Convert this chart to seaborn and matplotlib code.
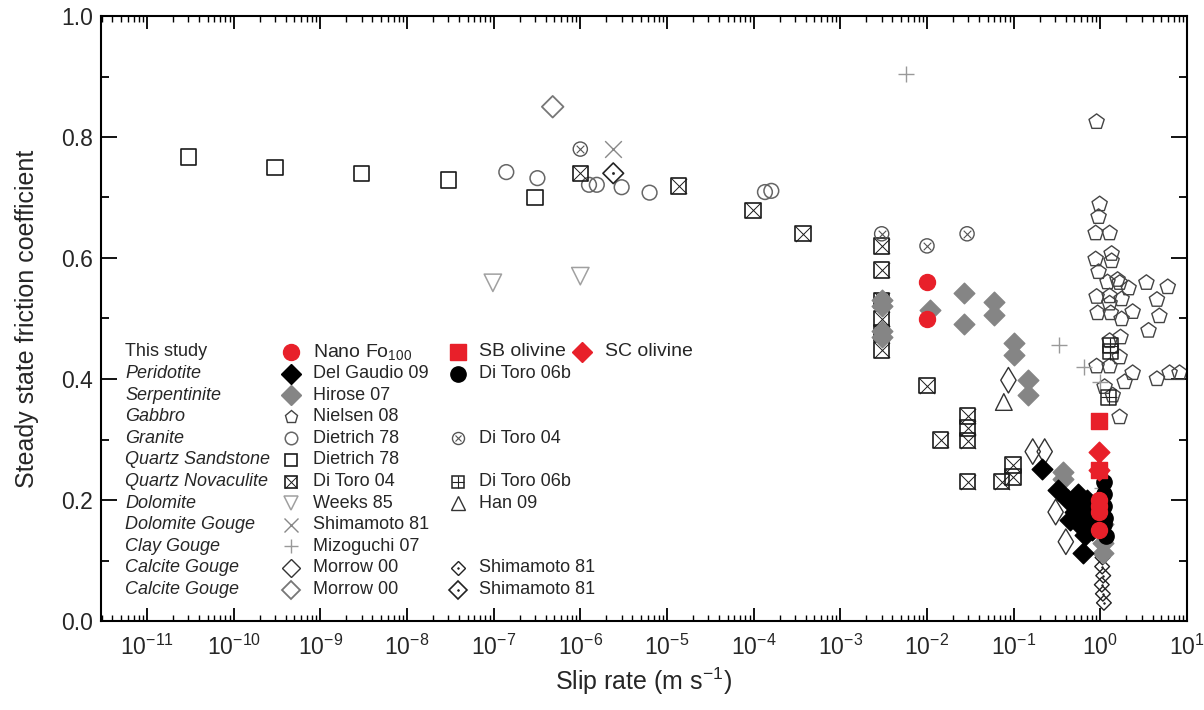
import numpy as np
import matplotlib
matplotlib.use("Agg")
import matplotlib.pyplot as plt
import matplotlib.ticker as mticker
import seaborn as sns

# ---- data: slip rate (m/s) and steady state friction coefficient ----
# This study
nano_x = [1e-2, 1e-2, 0.97, 0.97, 0.97, 0.97, 0.97]
nano_y = [0.56, 0.50, 0.25, 0.20, 0.19, 0.18, 0.15]
sb_x = [0.97, 0.97]
sb_y = [0.33, 0.25]
sc_x = [0.97, 0.97]
sc_y = [0.28, 0.25]

# Peridotite
delgaudio_x = [0.214, 0.321, 0.42, 0.506, 0.577, 0.659, 0.625, 0.753, 0.859, 0.443, 0.55, 0.70, 0.80, 0.90, 0.62]
delgaudio_y = [0.251, 0.217, 0.200, 0.180, 0.159, 0.142, 0.112, 0.167, 0.190, 0.167, 0.210, 0.200, 0.150, 0.160, 0.185]
ditoro06b_x = [1.10, 1.10, 1.10, 1.12, 1.10, 1.15]
ditoro06b_y = [0.23, 0.21, 0.19, 0.17, 0.16, 0.14]

# Serpentinite
hirose_x = [3e-3, 3e-3, 3e-3, 3e-3, 1.07e-2, 0.0265, 0.0265, 0.0587, 0.0587, 0.10, 0.10,
            0.148, 0.148, 0.368, 0.368, 1.06, 1.06, 1.06, 1.08]
hirose_y = [0.53, 0.52, 0.48, 0.47, 0.514, 0.542, 0.491, 0.527, 0.506, 0.46, 0.44,
            0.398, 0.373, 0.246, 0.234, 0.145, 0.129, 0.112, 0.16]

# Gabbro
nielsen_x = [0.906, 0.982, 0.955, 0.883, 1.28, 0.883, 1.35, 1.35, 0.955, 1.21, 1.58, 1.67, 2.12,
             0.906, 1.28, 1.76, 1.28, 0.931, 1.32, 1.76, 2.36, 1.71, 1.28, 1.67, 0.906, 1.28,
             2.36, 1.91, 1.12, 1.67, 1.39, 3.4, 4.5, 6.0, 4.8, 3.6, 6.3, 8.2, 4.5]
nielsen_y = [0.825, 0.689, 0.668, 0.641, 0.641, 0.598, 0.607, 0.595, 0.577, 0.560, 0.564, 0.559, 0.550,
             0.536, 0.537, 0.532, 0.525, 0.509, 0.509, 0.499, 0.511, 0.469, 0.463, 0.436, 0.421, 0.421,
             0.410, 0.395, 0.387, 0.337, 0.373, 0.559, 0.531, 0.552, 0.504, 0.48, 0.41, 0.41, 0.40]

# Granite
dietrich_gr_x = [1.4e-7, 3.2e-7, 1.26e-6, 1.55e-6, 3.0e-6, 6.3e-6, 1.35e-4, 1.6e-4]
dietrich_gr_y = [0.742, 0.732, 0.721, 0.721, 0.717, 0.708, 0.709, 0.711]
ditoro04_gr_x = [1e-6, 3e-3, 1e-2, 0.029]
ditoro04_gr_y = [0.78, 0.64, 0.62, 0.64]

# Quartz sandstone
dietrich_qs_x = [3e-11, 3e-10, 3e-9, 3e-8, 3e-7]
dietrich_qs_y = [0.767, 0.750, 0.740, 0.729, 0.700]

# Quartz novaculite
ditoro04_qn_x = [1e-6, 1.37e-5, 9.8e-5, 3.7e-4, 3e-3, 3e-3, 3e-3, 3e-3, 3e-3, 3e-3, 1e-2,
                 1.44e-2, 0.0295, 0.0295, 0.0295, 0.0295, 0.073, 0.098, 0.098]
ditoro04_qn_y = [0.740, 0.719, 0.679, 0.640, 0.620, 0.580, 0.530, 0.500, 0.476, 0.448, 0.389,
                 0.299, 0.339, 0.319, 0.298, 0.230, 0.230, 0.258, 0.238]
ditoro06b_qn_x = [1.30, 1.30, 1.25]
ditoro06b_qn_y = [0.455, 0.445, 0.370]

# Dolomite
weeks_x = [9.8e-8, 1.0e-6]
weeks_y = [0.559, 0.570]
han_x = [0.077]
han_y = [0.362]

# Dolomite gouge
shimamoto_dg_x = [2.4e-6]
shimamoto_dg_y = [0.78]

# Clay gouge
mizoguchi_x = [5.8e-3, 0.33, 0.65, 0.98, 1.05]
mizoguchi_y = [0.904, 0.456, 0.420, 0.395, 0.22]

# Calcite gouge
morrow_a_x = [0.087, 0.166, 0.228, 0.305, 0.40]
morrow_a_y = [0.398, 0.280, 0.280, 0.180, 0.131]
morrow_b_x = [4.8e-7]
morrow_b_y = [0.850]
shimamoto_a_x = [1.05, 1.08, 1.04, 1.07, 1.10, 1.06]
shimamoto_a_y = [0.090, 0.075, 0.060, 0.045, 0.030, 0.105]
shimamoto_b_x = [2.4e-6]
shimamoto_b_y = [0.740]

x_ticks = [1e-11, 1e-10, 1e-9, 1e-8, 1e-7, 1e-6, 1e-5, 1e-4, 1e-3, 1e-2, 1e-1, 1e0, 1e1]
y_ticks = [0.0, 0.2, 0.4, 0.6, 0.8, 1.0]

# ---- marker styles ----
RED = "#e8202a"
GREY = "#858585"
st = {
    "nano": [dict(m="o", ms=11.5, fc=RED, ec=RED)],
    "sb": [dict(m="s", ms=11, fc=RED, ec=RED)],
    "sc": [dict(m="D", ms=10.5, fc=RED, ec=RED)],
    "delgaudio": [dict(m="D", ms=10.5, fc="black", ec="black")],
    "ditoro06b": [dict(m="o", ms=11, fc="black", ec="black")],
    "hirose": [dict(m="D", ms=10.5, fc=GREY, ec=GREY)],
    "nielsen": [dict(m="p", ms=11.5, fc="none", ec="#444444", lw=1.0)],
    "dietrich_gr": [dict(m="o", ms=10.6, fc="none", ec="#666666", lw=1.1)],
    "ditoro04_gr": [dict(m="o", ms=10.2, fc="none", ec="#555555", lw=1.0),
                    dict(m="x", ms=5.5, ec="#555555", lw=0.8)],
    "dietrich_qs": [dict(m="s", ms=11, fc="none", ec="#1a1a1a", lw=1.2)],
    "ditoro04_qn": [dict(m="s", ms=11, fc="none", ec="#1a1a1a", lw=1.2),
                    dict(m="x", ms=11, ec="#1a1a1a", lw=0.7)],
    "ditoro06b_qn": [dict(m="s", ms=11, fc="none", ec="#222222", lw=1.1),
                     dict(m="+", ms=11, ec="#222222", lw=0.8)],
    "weeks": [dict(m="v", ms=12.5, fc="none", ec="#a0a0a0", lw=1.1)],
    "han": [dict(m="^", ms=12, fc="none", ec="#333333", lw=1.0)],
    "shimamoto_dg": [dict(m="x", ms=12, ec="#888888", lw=1.0)],
    "mizoguchi": [dict(m="+", ms=12, ec="#999999", lw=1.0)],
    "morrow_a": [dict(m="d", ms=13, fc="none", ec="#333333", lw=1.0)],
    "morrow_a_leg": [dict(m="D", ms=9.5, fc="none", ec="#333333", lw=1.0)],
    "morrow_b": [dict(m="D", ms=11, fc="none", ec="#777777", lw=1.3)],
    "shimamoto_a": [dict(m="D", ms=7.5, fc="none", ec="#222222", lw=1.0),
                    dict(m="o", ms=1.2, fc="#222222", ec="#222222", lw=0.5)],
    "shimamoto_b": [dict(m="D", ms=10.5, fc="none", ec="#222222", lw=1.2),
                    dict(m="o", ms=1.5, fc="#222222", ec="#222222", lw=0.5)],
}

sns.set_style("ticks")
plt.rcParams["font.family"] = ["Liberation Sans", "DejaVu Sans"]
plt.rcParams["mathtext.fontset"] = "custom"
plt.rcParams["mathtext.rm"] = "Liberation Sans"
plt.rcParams["mathtext.it"] = "Liberation Sans:italic"
plt.rcParams["mathtext.default"] = "regular"

fig = plt.figure(figsize=(12.04, 7.10), dpi=100)
ax = fig.add_axes([101 / 1204, 89 / 710, 1086 / 1204, 605 / 710])
ax.set_xscale("log")


def draw(x, y, key, z):
    for lay in st[key]:
        kw = dict(marker=lay["m"], s=lay["ms"] ** 2, linewidth=lay.get("lw", 1.0),
                  zorder=z, ax=ax, legend=False)
        if lay["m"] in ("x", "+"):
            kw["color"] = lay["ec"]
        else:
            kw.update(color=lay["ec"], facecolor=lay["fc"], edgecolor=lay["ec"])
        sns.scatterplot(x=x, y=y, **kw)


draw(dietrich_qs_x, dietrich_qs_y, "dietrich_qs", 2)
draw(dietrich_gr_x, dietrich_gr_y, "dietrich_gr", 2)
draw(ditoro04_qn_x, ditoro04_qn_y, "ditoro04_qn", 2)
draw(ditoro04_gr_x, ditoro04_gr_y, "ditoro04_gr", 2)
draw(weeks_x, weeks_y, "weeks", 2)
draw(shimamoto_dg_x, shimamoto_dg_y, "shimamoto_dg", 2)
draw(morrow_b_x, morrow_b_y, "morrow_b", 2)
draw(nielsen_x, nielsen_y, "nielsen", 2)
draw(ditoro06b_qn_x, ditoro06b_qn_y, "ditoro06b_qn", 2.5)
draw(mizoguchi_x, mizoguchi_y, "mizoguchi", 2)
draw(han_x, han_y, "han", 2)
draw(morrow_a_x, morrow_a_y, "morrow_a", 2)
draw(shimamoto_a_x, shimamoto_a_y, "shimamoto_a", 2)
draw(shimamoto_b_x, shimamoto_b_y, "shimamoto_b", 2)
draw(hirose_x, hirose_y, "hirose", 3)
draw(delgaudio_x, delgaudio_y, "delgaudio", 3.2)
draw(ditoro06b_x, ditoro06b_y, "ditoro06b", 3.4)
draw(nano_x, nano_y, "nano", 5)
draw(sb_x, sb_y, "sb", 5)
draw(sc_x, sc_y, "sc", 5)

# axes
ax.set_xlim(2.95e-12, 10)
ax.set_ylim(0, 1.0)
ax.set_xticks(x_ticks)
ax.xaxis.set_major_formatter(mticker.LogFormatterSciNotation())
ax.xaxis.set_minor_locator(mticker.LogLocator(base=10, subs=np.arange(2, 10), numticks=40))
ax.xaxis.set_minor_formatter(mticker.NullFormatter())
ax.set_yticks(y_ticks)
ax.set_yticklabels([f"{v:.1f}" for v in y_ticks])
ax.yaxis.set_minor_locator(mticker.MultipleLocator(0.1))
ax.tick_params(axis="both", which="both", direction="in", top=True, right=True, color="black")
ax.tick_params(axis="x", which="major", length=9.5, width=1.3, labelsize=16.5, pad=10)
ax.tick_params(axis="x", which="minor", length=4.5, width=1.0)
ax.tick_params(axis="y", which="major", length=11.5, width=1.3, labelsize=16.5, pad=6)
ax.tick_params(axis="y", which="minor", length=6, width=1.3)
for sp in ax.spines.values():
    sp.set_linewidth(1.5)
    sp.set_color("black")
ax.set_xlabel("Slip rate (m s$^{-1}$)", fontsize=18, labelpad=4)
ax.set_ylabel("Steady state friction coefficient", fontsize=18, labelpad=16)

# legend block drawn inside the axes
leg_rows = ["This study", "Peridotite", "Serpentinite", "Gabbro", "Granite", "Quartz Sandstone",
            "Quartz Novaculite", "Dolomite", "Dolomite Gouge", "Clay Gouge", "Calcite Gouge", "Calcite Gouge"]
leg_entries = [
    (0, 1, "nano", "Nano Fo$_{100}$"), (0, 2, "sb", "SB olivine"), (0, 3, "sc", "SC olivine"),
    (1, 1, "delgaudio", "Del Gaudio 09"), (1, 2, "ditoro06b", "Di Toro 06b"),
    (2, 1, "hirose", "Hirose 07"),
    (3, 1, "nielsen", "Nielsen 08"),
    (4, 1, "dietrich_gr", "Dietrich 78"), (4, 2, "ditoro04_gr", "Di Toro 04"),
    (5, 1, "dietrich_qs", "Dietrich 78"),
    (6, 1, "ditoro04_qn", "Di Toro 04"), (6, 2, "ditoro06b_qn", "Di Toro 06b"),
    (7, 1, "weeks", "Weeks 85"), (7, 2, "han", "Han 09"),
    (8, 1, "shimamoto_dg", "Shimamoto 81"),
    (9, 1, "mizoguchi", "Mizoguchi 07"),
    (10, 1, "morrow_a_leg", "Morrow 00"), (10, 2, "shimamoto_a", "Shimamoto 81"),
    (11, 1, "morrow_b", "Morrow 00"), (11, 2, "shimamoto_b", "Shimamoto 81"),
]
col_px = {1: (291, 313), 2: (458, 479), 3: (582, 605)}


def fx(px):
    return (px - 101) / 1086


def fy(py):
    return (621 - py) / 605


for i, name in enumerate(leg_rows):
    ax.text(fx(125), fy(352 + 21.6 * i), name, transform=ax.transAxes, fontsize=13,
            style="normal" if i == 0 else "italic", va="center", ha="left")
for row, col, key, label in leg_entries:
    yy = fy(352 + 21.6 * row)
    mx, tx = col_px[col]
    for lay in st[key]:
        scale = 1.0 if key in ("nano", "sb", "sc", "delgaudio", "hirose", "ditoro06b",
                               "morrow_a_leg", "shimamoto_a") else 0.85
        if lay["m"] in ("x", "+"):
            ax.plot([fx(mx)], [yy], ls="none", marker=lay["m"], ms=lay["ms"] * scale,
                    mec=lay["ec"], mew=lay.get("lw", 1.0), transform=ax.transAxes)
        else:
            ax.plot([fx(mx)], [yy], ls="none", marker=lay["m"], ms=lay["ms"] * scale,
                    mfc=lay["fc"], mec=lay["ec"], mew=lay.get("lw", 1.0), transform=ax.transAxes)
    fs = 14 if row == 0 else 13
    ax.text(fx(tx), yy, label, transform=ax.transAxes, fontsize=fs, va="center", ha="left")

fig.savefig("out.png", dpi=100)
